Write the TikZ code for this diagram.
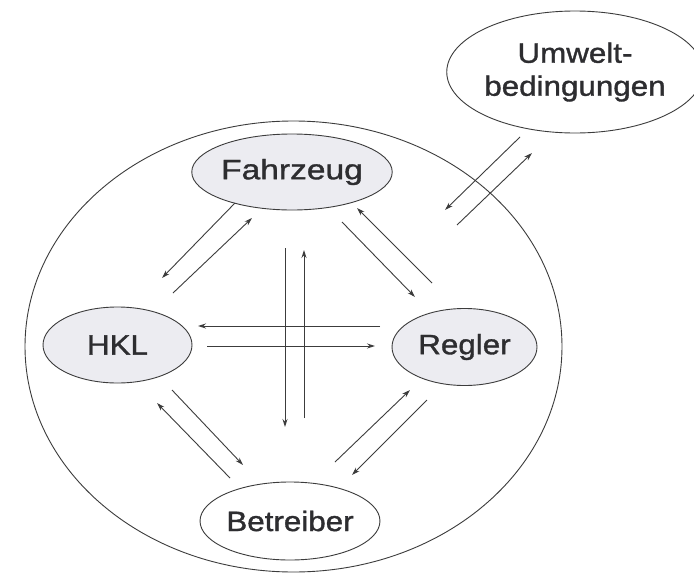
\documentclass[tikz,border=0pt]{standalone}
\usepackage{fontspec}
\usetikzlibrary{shapes.geometric,arrows.meta}
\newfontfamily\lblfont[FakeStretch=1.12,FakeBold=1.2]{Liberation Sans}
\definecolor{inkgray}{RGB}{60,60,60}
\definecolor{textgray}{RGB}{45,45,48}
\definecolor{bubblefill}{RGB}{236,236,241}
\begin{document}
\begin{tikzpicture}[x=1pt,y=-1pt,
  bubble/.style={ellipse,draw=inkgray,line width=0.9pt,inner sep=0pt,
    text=textgray,font=\lblfont\fontsize{28}{33}\selectfont},
  shaded/.style={bubble,fill=bubblefill},
  flow/.style={draw=inkgray,line width=0.9pt,-{Stealth[length=8pt,width=5pt]}}]
\useasboundingbox (0,0) rectangle (694,573);
\fill[white] (0,0) rectangle (694,573);

% system boundary
\draw[inkgray,line width=0.9pt] (293.5,346.5) ellipse [x radius=268.5,y radius=225.5];

% components
\node[bubble,minimum width=232,minimum height=122,align=center] (env) at (575,72)
  {Umwelt-\\bedingungen};
\node[shaded,minimum width=148,minimum height=76] (veh) at (292,172)
  {\scalebox{1.07}[1]{Fahrzeug}};
\node[shaded,minimum width=149,minimum height=76] (hkl) at (117.5,345) {HKL};
\node[shaded,minimum width=145,minimum height=77] (ctl) at (464.5,347) {Regler};
\node[bubble,minimum width=150,minimum height=78] (op) at (290,521) {Betreiber};

% arrow end points
\coordinate (vh1) at (235,203); \coordinate (vh2) at (162,278);
\coordinate (hv1) at (173,293); \coordinate (hv2) at (252,218);
\coordinate (vc1) at (342,222); \coordinate (vc2) at (415,297);
\coordinate (cv1) at (432,283); \coordinate (cv2) at (357,208);
\coordinate (ch1) at (380,326); \coordinate (ch2) at (198,326);
\coordinate (hc1) at (207,346); \coordinate (hc2) at (375,346);
\coordinate (vo1) at (285,248); \coordinate (vo2) at (285,427);
\coordinate (ov1) at (304,418); \coordinate (ov2) at (304,250);
\coordinate (ho1) at (172,390); \coordinate (ho2) at (243,465);
\coordinate (oh1) at (230,478); \coordinate (oh2) at (157,403);
\coordinate (oc1) at (335,462); \coordinate (oc2) at (410,390);
\coordinate (co1) at (427,400); \coordinate (co2) at (352,475);
\coordinate (es1) at (520,137); \coordinate (es2) at (445,210);
\coordinate (se1) at (457,225); \coordinate (se2) at (532,153);

% information flows
\draw[flow] (vh1) -- (vh2);
\draw[flow] (hv1) -- (hv2);
\draw[flow] (vc1) -- (vc2);
\draw[flow] (cv1) -- (cv2);
\draw[flow] (ch1) -- (ch2);
\draw[flow] (hc1) -- (hc2);
\draw[flow] (vo1) -- (vo2);
\draw[flow] (ov1) -- (ov2);
\draw[flow] (ho1) -- (ho2);
\draw[flow] (oh1) -- (oh2);
\draw[flow] (oc1) -- (oc2);
\draw[flow] (co1) -- (co2);
\draw[flow] (es1) -- (es2);
\draw[flow] (se1) -- (se2);
\end{tikzpicture}
\end{document}
